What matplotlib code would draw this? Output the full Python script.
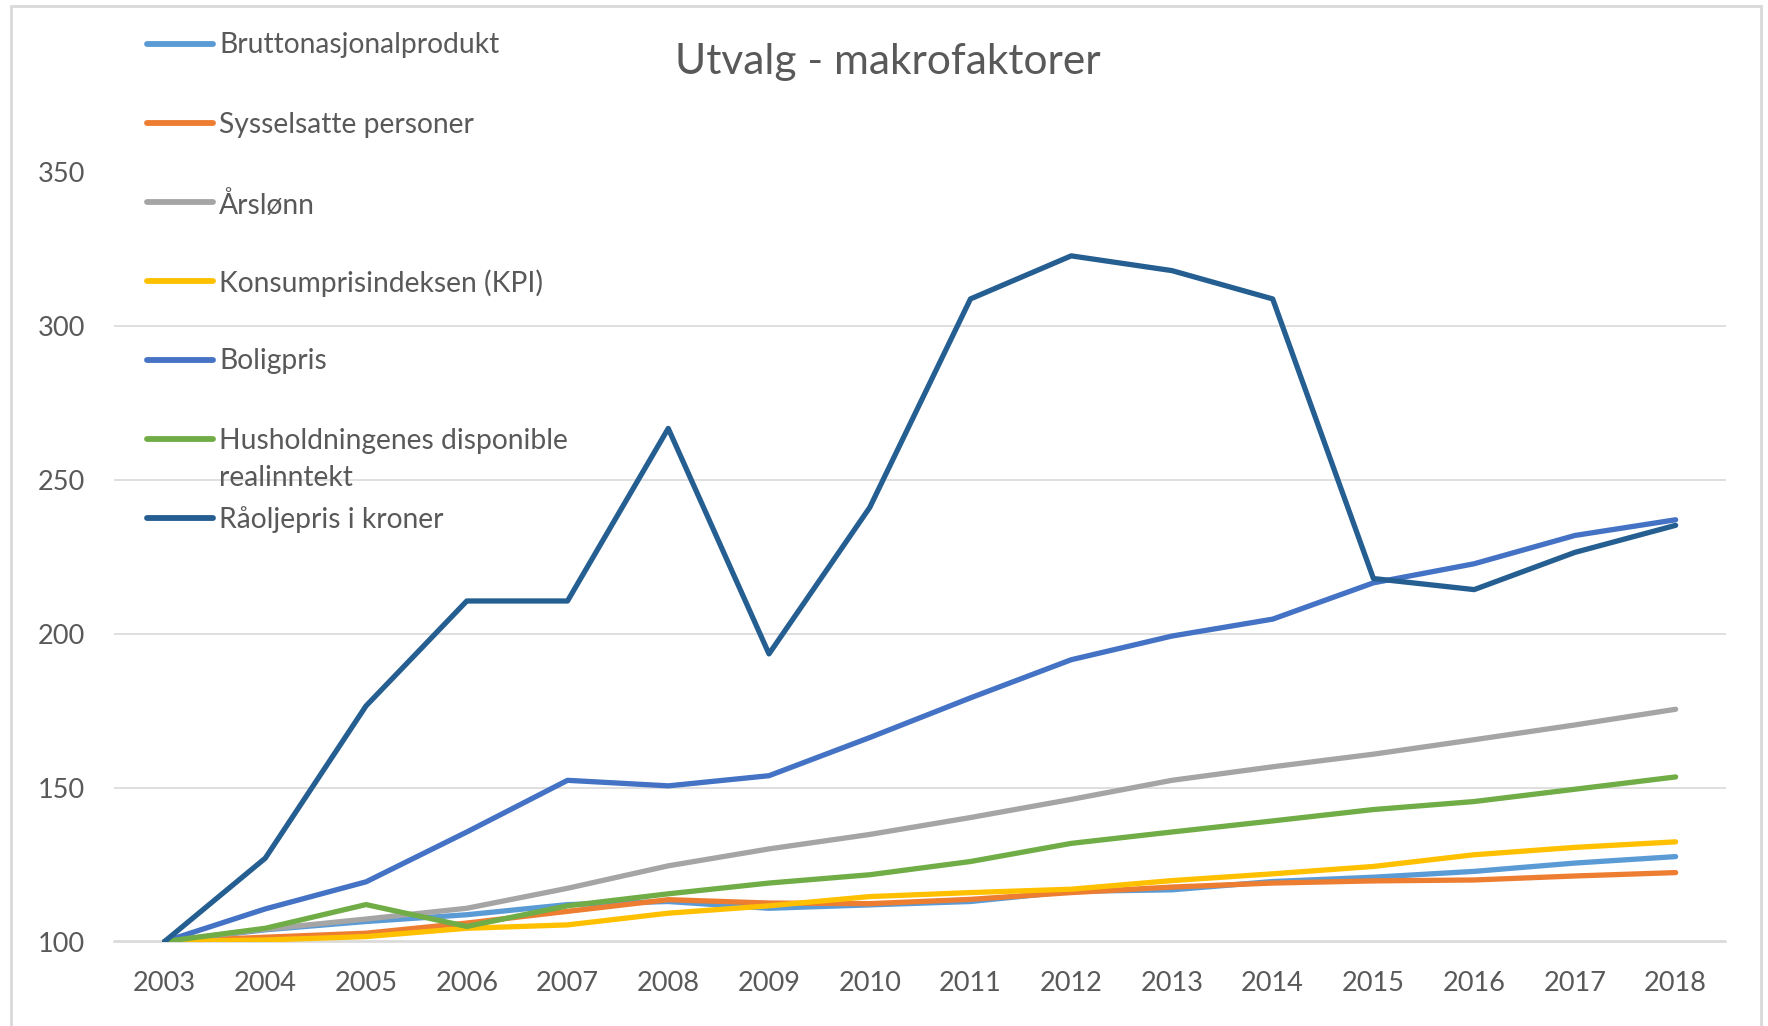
import matplotlib
matplotlib.use("Agg")
import matplotlib.pyplot as plt
from matplotlib.lines import Line2D
from matplotlib.patches import Rectangle

plt.rcParams['font.family'] = ['Lato', 'DejaVu Sans']

years = list(range(2003, 2019))
series_names = [
    "Bruttonasjonalprodukt",
    "Sysselsatte personer",
    "Årslønn",
    "Konsumprisindeksen (KPI)",
    "Boligpris",
    "Husholdningenes disponible\nrealinntekt",
    "Råoljepris i kroner",
]
bnp = [100, 103.8, 106.5, 108.7, 112.0, 113.0, 110.8, 111.9, 113.0, 116.3, 116.8, 119.5, 120.9, 122.8, 125.5, 127.6]
sysselsatte = [100, 101.4, 102.7, 106.0, 109.8, 113.6, 112.5, 112.3, 113.7, 115.9, 117.7, 119.0, 119.7, 120.0, 121.3, 122.4]
arslonn = [100, 104.0, 107.3, 110.8, 117.3, 124.6, 130.1, 134.8, 140.3, 146.2, 152.4, 156.8, 160.9, 165.6, 170.4, 175.5]
kpi = [100, 100.5, 101.6, 104.3, 105.4, 109.2, 111.6, 114.6, 115.9, 117.0, 119.8, 122.0, 124.4, 128.2, 130.6, 132.4]
boligpris = [100, 110.6, 119.4, 135.6, 152.4, 150.6, 153.9, 166.3, 179.2, 191.6, 199.3, 204.8, 216.6, 222.8, 232.0, 237.1]
husholdning = [100, 104.3, 112.0, 104.9, 111.6, 115.5, 119.0, 121.7, 126.0, 131.9, 135.6, 139.2, 142.9, 145.5, 149.5, 153.5]
raolje = [100, 127.1, 176.6, 210.7, 210.7, 266.8, 193.5, 241.1, 308.9, 322.9, 318.1, 308.9, 218.0, 214.4, 226.5, 235.3]

all_series = [bnp, sysselsatte, arslonn, kpi, boligpris, husholdning, raolje]
colors = ["#5B9BD5", "#ED7D31", "#A5A5A5", "#FFC000", "#4472C4", "#70AD47", "#255E91"]
yticks = [100, 150, 200, 250, 300, 350]

W, H = 1768, 1026
fig = plt.figure(figsize=(W / 100, H / 100), dpi=100)
ax = fig.add_axes([114.2 / W, 1 - 941.5 / H, (1726 - 114.2) / W, (941.5 - 172.5) / H])

for vals, c in zip(all_series, colors):
    ax.plot(years, vals, color=c, lw=3.8, solid_capstyle='round', solid_joinstyle='round', zorder=3)

ax.set_xlim(2002.5, 2018.5)
ax.set_ylim(100, 350)
ax.set_yticks(yticks)
ax.set_xticks(years)
ax.set_xticklabels([str(y) for y in years])
ax.grid(axis='y', color='#D9D9D9', lw=1.2, zorder=0)
for s in ['top', 'right', 'left']:
    ax.spines[s].set_visible(False)
ax.spines['bottom'].set_color('#D9D9D9')
ax.spines['bottom'].set_linewidth(1.2)
ax.tick_params(axis='both', length=0, labelsize=19.5, labelcolor='#595959')
ax.tick_params(axis='x', pad=21)
ax.tick_params(axis='y', pad=21)

fig.text(0.5 + (787 * 1.1276 - W / 2) / W, 1 - 62 / H, "Utvalg - makrofaktorer",
         ha='center', va='center', fontsize=30.5, color='#595959')

# legend drawn in figure coordinates (Excel-style, first-line aligned with the handle)
leg_y = [44, 123, 202, 281, 360, 439, 517.6]
for name, c, yy in zip(series_names, colors, leg_y):
    yf = 1 - yy / H
    fig.add_artist(Line2D([147 / W, 213 / W], [yf, yf], color=c, lw=4.2,
                          solid_capstyle='round', transform=fig.transFigure))
    fig.text(219 / W, yf + 11.5 / H, name, ha='left', va='top', fontsize=20.3, color='#595959',
             linespacing=1.56, transform=fig.transFigure)

fig.add_artist(Rectangle((11 / W, -0.01), (1761 - 11) / W, 1.01 - 6 / H, transform=fig.transFigure,
                         fill=False, edgecolor='#D9D9D9', lw=2))

fig.savefig("out.png", dpi=100)
